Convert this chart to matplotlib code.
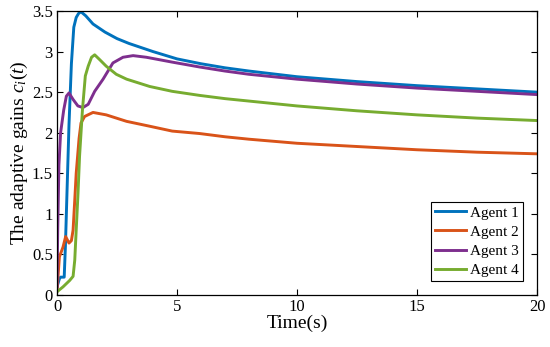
import matplotlib
matplotlib.use("Agg")
import matplotlib.pyplot as plt

plt.rcParams['font.family'] = ['Liberation Serif', 'DejaVu Serif']
plt.rcParams['mathtext.fontset'] = 'custom'
plt.rcParams['mathtext.rm'] = 'Liberation Serif'
plt.rcParams['mathtext.it'] = 'Liberation Serif:italic'

labels = ["Agent 1", "Agent 2", "Agent 3", "Agent 4"]
colors = ["#0072BD", "#D95319", "#7E2F8E", "#77AC30"]

t1 = [0, 0.1, 0.15, 0.3, 0.35, 0.4, 0.5, 0.6, 0.7, 0.8, 0.9, 1.0, 1.2, 1.5, 2.0, 2.5, 3.0, 4.0, 5.0, 6.0, 7.0, 8.0, 10, 12.5, 15, 17.5, 20]
c1 = [0.1, 0.2, 0.22, 0.22, 0.6, 1.1, 2.1, 2.85, 3.3, 3.42, 3.47, 3.49, 3.44, 3.34, 3.24, 3.16, 3.1, 3.0, 2.91, 2.85, 2.8, 2.76, 2.69, 2.63, 2.58, 2.54, 2.5]

t2 = [0, 0.1, 0.25, 0.36, 0.5, 0.6, 0.67, 0.74, 0.8, 0.92, 1.0, 1.15, 1.5, 2.05, 2.9, 3.86, 4.8, 5.94, 7, 8, 10, 12.5, 15, 17.5, 20]
c2 = [0.05, 0.47, 0.59, 0.72, 0.64, 0.67, 0.8, 1.17, 1.5, 1.93, 2.12, 2.2, 2.25, 2.22, 2.14, 2.08, 2.02, 1.99, 1.95, 1.92, 1.87, 1.83, 1.79, 1.76, 1.74]

t3 = [0, 0.03, 0.08, 0.15, 0.28, 0.39, 0.5, 0.67, 0.87, 1.08, 1.3, 1.57, 1.92, 2.33, 2.75, 3.17, 3.72, 4.8, 5.94, 7, 8, 10, 12.5, 15, 17.5, 20]
c3 = [0.1, 0.8, 1.6, 2.0, 2.28, 2.45, 2.49, 2.41, 2.33, 2.31, 2.35, 2.51, 2.66, 2.86, 2.93, 2.95, 2.93, 2.87, 2.81, 2.76, 2.72, 2.66, 2.6, 2.55, 2.51, 2.47]

t4 = [0, 0.25, 0.53, 0.67, 0.74, 0.8, 0.875, 0.94, 1.06, 1.18, 1.3, 1.44, 1.57, 1.78, 2.05, 2.47, 2.9, 3.86, 4.8, 5.94, 7, 8, 10, 12.5, 15, 17.5, 20]
c4 = [0.04, 0.1, 0.18, 0.23, 0.43, 0.8, 1.25, 1.71, 2.28, 2.7, 2.82, 2.93, 2.96, 2.9, 2.82, 2.72, 2.66, 2.57, 2.51, 2.46, 2.42, 2.39, 2.33, 2.27, 2.22, 2.18, 2.15]

xticks = [0, 5, 10, 15, 20]
yticks = [0, 0.5, 1, 1.5, 2, 2.5, 3, 3.5]
yticklabels = ["0", "0.5", "1", "1.5", "2", "2.5", "3", "3.5"]

fig = plt.figure(figsize=(5.5, 3.47), dpi=100)
ax = fig.add_axes([57/550, 1-295/347, 480/550, 284/347])

for t, c, lab, col in zip([t1, t2, t3, t4], [c1, c2, c3, c4], labels, colors):
    ax.plot(t, c, color=col, lw=2.1, label=lab)

ax.set_xlim(0, 20)
ax.set_ylim(0, 3.5)
ax.set_xticks(xticks)
ax.set_yticks(yticks)
ax.set_yticklabels(yticklabels)
ax.tick_params(direction='in', top=True, right=True, labelsize=12, length=4, width=0.8, pad=3)
for s in ax.spines.values():
    s.set_linewidth(0.9)
ax.set_xlabel("Time(s)", fontsize=14, labelpad=0)
ax.set_ylabel("The adaptive gains $c_i(t)$", fontsize=14, labelpad=1)

leg = ax.legend(loc='lower right', bbox_to_anchor=((523-57)/480, (295-281)/284),
                borderaxespad=0, fontsize=11, frameon=True, fancybox=False,
                edgecolor='black', framealpha=1, handlelength=2.0, handletextpad=0.3,
                labelspacing=0.36, borderpad=0.25)
leg.get_frame().set_linewidth(0.8)

fig.savefig("out.png", dpi=100)
